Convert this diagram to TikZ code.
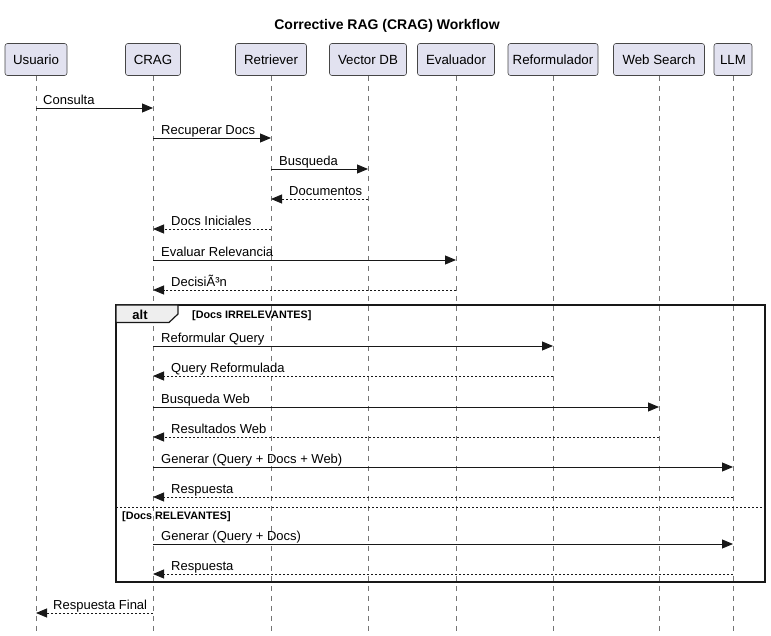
\documentclass[tikz,border=0pt]{standalone}
\usepackage{fontspec}
\setmainfont{Liberation Sans}
\usetikzlibrary{arrows.meta}
\definecolor{partfill}{HTML}{E2E2F0}
\definecolor{ink}{HTML}{181818}
\definecolor{tabfill}{HTML}{EEEEEE}
\tikzset{
  part/.style={draw=ink!80, line width=0.6pt, fill=partfill, rounded corners=2.5pt, minimum height=32pt, inner xsep=0pt, font=\fontsize{13.3}{15}\selectfont},
  life/.style={draw=ink!60, line width=0.6pt, dash pattern=on 5pt off 5pt},
  msg/.style={draw=ink, line width=0.9pt, -{Triangle[length=11pt,width=9pt]}},
  ret/.style={draw=ink, line width=0.9pt, dash pattern=on 2pt off 2pt, -{Triangle[length=11pt,width=9pt]}},
  lbl/.style={anchor=base west, inner sep=0pt, font=\fontsize{13}{15}\selectfont, text=black},
  guard/.style={anchor=base west, inner sep=0pt, font=\fontsize{10.8}{12}\bfseries\selectfont, text=black},
}
\begin{document}
\begin{tikzpicture}[x=1pt,y=-1pt]
\useasboundingbox (0,0) rectangle (771,636);
% title
\node[inner sep=0pt, anchor=base, font=\fontsize{14}{16}\bfseries\selectfont] (title) at (387,30) {Corrective RAG (CRAG) Workflow};
% participants
\node[part, minimum width=62pt] (u) at (36,59.5) {Usuario};
\node[part, minimum width=55pt] (c) at (153,59.5) {CRAG};
\node[part, minimum width=71pt] (r) at (271,59.5) {Retriever};
\node[part, minimum width=77pt] (v) at (368,59.5) {Vector DB};
\node[part, minimum width=77pt] (e) at (456,59.5) {Evaluador};
\node[part, minimum width=90pt] (f) at (553,59.5) {Reformulador};
\node[part, minimum width=91pt] (w) at (659,59.5) {Web Search};
\node[part, minimum width=38pt] (l) at (733,59.5) {LLM};
% lifeline ends
\coordinate (bot) at (0,631);
\foreach \p in {u,c,r,v,e,f,w,l}{
  \draw[life] (\p.south) -- (\p |- bot);
}
% alt frame
\draw[line width=1.5pt, draw=ink] (116,305) rectangle (765,582);
\draw[line width=1.2pt, draw=ink, fill=tabfill] (116,305) -- (178,305) -- (178,314) -- (169,322.5) -- (116,322.5) -- cycle;
\node[inner sep=0pt, anchor=base, font=\fontsize{13}{15}\bfseries\selectfont] (alt) at (140,319.5) {alt};
\node[guard] (g1) at (192,319) {[Docs IRRELEVANTES]};
\draw[draw=ink, line width=0.8pt, dash pattern=on 2pt off 2pt] (116,507) -- (765,507);
\node[guard] (g2) at (122,519.5) {[Docs RELEVANTES]};
% rows
\foreach \n/\y in {1/108,2/138,3/169,4/199,5/229,6/260,7/290,8/346,9/376,10/407,11/437,12/467,13/497,14/544,15/574,16/613}{
  \coordinate (m\n) at (0,\y);
}
% messages
\draw[msg] (u |- m1) -- (c |- m1);
\node[lbl] (t1) at ([shift={(7,-3.5)}]u |- m1) {Consulta};
\draw[msg] (c |- m2) -- (r |- m2);
\node[lbl] (t2) at ([shift={(8,-3.5)}]c |- m2) {Recuperar Docs};
\draw[msg] (r |- m3) -- (v |- m3);
\node[lbl] (t3) at ([shift={(8,-3.5)}]r |- m3) {Busqueda};
\draw[ret] (v |- m4) -- (r |- m4);
\node[lbl] (t4) at ([shift={(18,-3.5)}]r |- m4) {Documentos};
\draw[ret] (r |- m5) -- (c |- m5);
\node[lbl] (t5) at ([shift={(18,-3.5)}]c |- m5) {Docs Iniciales};
\draw[msg] (c |- m6) -- (e |- m6);
\node[lbl] (t6) at ([shift={(8,-3.5)}]c |- m6) {Evaluar Relevancia};
\draw[ret] (e |- m7) -- (c |- m7);
\node[lbl] (t7) at ([shift={(18,-3.5)}]c |- m7) {DecisiÃ³n};
\draw[msg] (c |- m8) -- (f |- m8);
\node[lbl] (t8) at ([shift={(8,-3.5)}]c |- m8) {Reformular Query};
\draw[ret] (f |- m9) -- (c |- m9);
\node[lbl] (t9) at ([shift={(18,-3.5)}]c |- m9) {Query Reformulada};
\draw[msg] (c |- m10) -- (w |- m10);
\node[lbl] (t10) at ([shift={(8,-3.5)}]c |- m10) {Busqueda Web};
\draw[ret] (w |- m11) -- (c |- m11);
\node[lbl] (t11) at ([shift={(18,-3.5)}]c |- m11) {Resultados Web};
\draw[msg] (c |- m12) -- (l |- m12);
\node[lbl] (t12) at ([shift={(8,-3.5)}]c |- m12) {Generar (Query + Docs + Web)};
\draw[ret] (l |- m13) -- (c |- m13);
\node[lbl] (t13) at ([shift={(18,-3.5)}]c |- m13) {Respuesta};
\draw[msg] (c |- m14) -- (l |- m14);
\node[lbl] (t14) at ([shift={(8,-3.5)}]c |- m14) {Generar (Query + Docs)};
\draw[ret] (l |- m15) -- (c |- m15);
\node[lbl] (t15) at ([shift={(18,-3.5)}]c |- m15) {Respuesta};
\draw[ret] (c |- m16) -- (u |- m16);
\node[lbl] (t16) at ([shift={(17,-3.5)}]u |- m16) {Respuesta Final};
\end{tikzpicture}
\end{document}
